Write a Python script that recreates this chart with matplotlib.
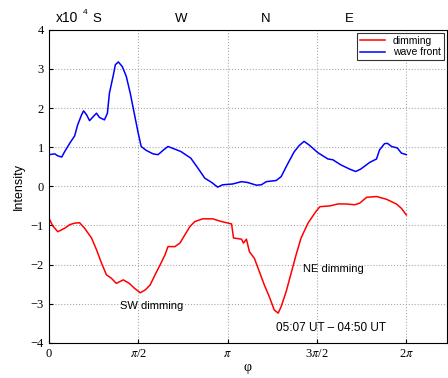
import numpy as np
import matplotlib as mpl
import matplotlib.pyplot as plt

### data (intensity in units of 1e4, phi in degrees)
phi_wave = np.array([0, 6, 9, 13, 16, 21, 26, 29, 33, 35, 38, 41, 45, 48, 51, 56, 59, 61,
                     65, 67, 70, 74, 78, 82, 86, 90, 93, 98, 105, 110, 115, 120, 127, 133,
                     143, 150, 157, 164, 170, 175, 185, 194, 200, 209, 214, 219, 229, 234,
                     240, 247, 252, 257, 262, 271, 281, 286, 294, 303, 309, 314, 323, 330,
                     333, 338, 341, 345, 351, 355, 360])
wave_front = np.array([0.81, 0.83, 0.78, 0.75, 0.89, 1.10, 1.29, 1.57, 1.83, 1.93, 1.83,
                       1.68, 1.79, 1.87, 1.76, 1.70, 1.87, 2.38, 2.85, 3.11, 3.18, 3.06,
                       2.81, 2.38, 1.87, 1.36, 1.02, 0.92, 0.83, 0.81, 0.92, 1.02, 0.95,
                       0.89, 0.72, 0.47, 0.21, 0.10, -0.02, 0.04, 0.06, 0.12, 0.10, 0.03,
                       0.04, 0.12, 0.15, 0.25, 0.55, 0.88, 1.04, 1.15, 1.06, 0.86, 0.70,
                       0.68, 0.55, 0.44, 0.38, 0.44, 0.61, 0.70, 0.93, 1.09, 1.10, 1.02,
                       0.98, 0.85, 0.81])

phi_dim = np.array([0, 4, 9, 16, 21, 26, 31, 36, 43, 48, 53, 58, 63, 68, 75, 81, 86, 92,
                    97, 102, 107, 112, 117, 120, 127, 132, 137, 142, 147, 155, 165, 174,
                    184, 186, 194, 196, 199, 202, 207, 212, 217, 222, 227, 231, 234, 239,
                    244, 249, 254, 261, 269, 273, 283, 291, 299, 308, 313, 320, 330, 340,
                    350, 355, 360])
dimming = np.array([-0.81, -1.01, -1.16, -1.07, -0.98, -0.94, -0.93, -1.07, -1.32, -1.62,
                    -1.96, -2.26, -2.35, -2.48, -2.39, -2.48, -2.60, -2.72, -2.65, -2.52,
                    -2.26, -2.01, -1.75, -1.54, -1.54, -1.45, -1.24, -1.03, -0.90, -0.83,
                    -0.83, -0.90, -0.96, -1.32, -1.35, -1.45, -1.35, -1.67, -1.84, -2.18,
                    -2.52, -2.82, -3.16, -3.24, -3.07, -2.69, -2.22, -1.75, -1.32, -0.94,
                    -0.64, -0.52, -0.50, -0.45, -0.45, -0.47, -0.43, -0.28, -0.26, -0.33,
                    -0.45, -0.56, -0.73])

xtick_labels = ['0', r'$\pi$/2', r'$\pi$', r'3$\pi$/2', r'2$\pi$']
dirs = ['S', 'W', 'N', 'E']
dir_pos = [0.84, 2.32, 3.81, 5.28]

### plot
mpl.rcParams['font.family'] = 'Liberation Sans'
mpl.rcParams['mathtext.fontset'] = 'stix'

fig = plt.figure(figsize=(4.48, 3.78), dpi=100)
ax = fig.add_axes([0.109, 0.093, 0.889, 0.828])
ax.plot(np.deg2rad(phi_dim), dimming, color='red', lw=1.1, label='dimming')
ax.plot(np.deg2rad(phi_wave), wave_front, color='blue', lw=1.1, label='wave front')

ax.set_xlim(0, 7.0)
ax.set_ylim(-4, 4)
ax.set_xticks(np.arange(5) * np.pi / 2)
ax.set_xticklabels(xtick_labels, family='Liberation Serif', fontsize=9)
ax.set_yticks(range(-4, 5))
ax.set_yticklabels([str(v).replace('-', '\u2212') for v in range(-4, 5)],
                   family='Liberation Serif', fontsize=9)
ax.tick_params(direction='in', length=3)
ax.grid(True, linestyle=':', color='#aaaaaa', lw=0.8)
ax.set_xlabel('φ', family='Liberation Serif', fontsize=10, labelpad=1)
ax.set_ylabel('Intensity', fontsize=9, labelpad=4)

leg = ax.legend(loc='upper right', fontsize=7.5, fancybox=False, edgecolor='black',
                handlelength=2.4, borderpad=0.3, labelspacing=0.1, borderaxespad=0.3)
leg.get_frame().set_linewidth(0.8)

for d, p in zip(dirs, dir_pos):
    ax.text(p, 4.12, d, ha='center', va='bottom', fontsize=9.5)
ax.text(0.12, 4.12, 'x10', ha='left', va='bottom', fontsize=10)
ax.text(0.6, 4.35, '4', ha='left', va='bottom', fontsize=6)

ax.text(1.25, -3.06, 'SW dimming', fontsize=8, va='center')
ax.text(4.47, -2.11, 'NE dimming', fontsize=8, va='center')
ax.text(4.0, -3.62, '05:07 UT \u2013 04:50 UT', fontsize=8.5, va='center')

fig.savefig('out.png', dpi=100)
